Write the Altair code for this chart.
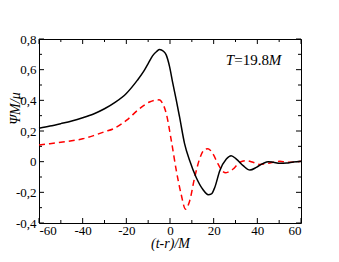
import altair as alt
import pandas as pd

# Black solid curve
black_t = [-60, -55, -50, -45, -40, -35, -30, -25, -20, -15, -12, -10, -8, -6, -4.8, -3, -1.7, -0.2,
           1.3, 2.9, 4.4, 6.7, 9, 12, 15, 17.5, 19, 20.5, 22.8, 25.8, 28, 30.4, 33.5, 36.6, 39.6,
           42.7, 45, 47.3, 50.3, 53.4, 56.4, 60]
black_psi = [0.218, 0.232, 0.248, 0.265, 0.286, 0.311, 0.345, 0.388, 0.445, 0.53, 0.59, 0.64, 0.69,
             0.72, 0.732, 0.72, 0.695, 0.62, 0.51, 0.40, 0.29, 0.116, 0.007, -0.103, -0.18, -0.215,
             -0.21, -0.168, -0.059, 0.017, 0.039, 0.017, -0.026, -0.055, -0.037, -0.011, 0.0,
             -0.004, -0.011, -0.009, -0.002, 0.003]

# Red dashed curve
red_t = [-60, -55, -50, -45, -40, -35, -30, -26, -20, -14, -9.4, -6.5, -5, -3.3, -1.7, 0.6, 2.9,
         5.1, 7.1, 9, 11.3, 13.6, 15.9, 17.4, 19.7, 22, 24.3, 25.5, 26.6, 28.9, 32, 35, 38, 41, 44,
         47.3, 50.3, 53.4, 56.4, 60]
red_psi = [0.109, 0.117, 0.126, 0.136, 0.149, 0.17, 0.195, 0.214, 0.269, 0.345, 0.389, 0.402, 0.403,
           0.378, 0.313, 0.138, -0.059, -0.212, -0.31, -0.256, -0.103, 0.02, 0.08, 0.085, 0.05,
           -0.015, -0.065, -0.072, -0.068, -0.048, -0.004, 0.007, -0.004, -0.018, -0.013, -0.004,
           0.002, -0.003, -0.003, 0.002]

x_major = [-60, -40, -20, 0, 20, 40, 60]
x_minor = [-50, -30, -10, 10, 30, 50]
y_major = [-0.4, -0.2, 0, 0.2, 0.4, 0.6, 0.8]
y_minor = [-0.3, -0.1, 0.1, 0.3, 0.5, 0.7]

annot_x = [25.5]
annot_y = [0.63]

W, H = 262, 184
X0, X1 = -60, 60
Y0, Y1 = -0.4, 0.8
FONT = "Liberation Serif"

xs = alt.Scale(domain=[X0, X1], nice=False, zero=False)
ys = alt.Scale(domain=[Y0, Y1], nice=False, zero=False)

common = dict(domain=False, ticks=False, grid=False,
              labelFont=FONT, labelFontSize=13, labelColor="black", labelFontWeight="normal",
              titleFont=FONT, titleFontSize=14, titleFontStyle="italic",
              titleFontWeight="normal", titleColor="black", labelOverlap=False)

xaxis = alt.Axis(values=x_major, title="(t-r)/M", labelExpr="'' + datum.value",
                 labelPadding=1, titleBaseline="top", titleY=13, **common)
yaxis = alt.Axis(values=y_major, title="ΨM/μ",
                 labelExpr="replace('' + datum.value, '.', ',')",
                 labelPadding=3, titleAngle=270, titleAlign="center",
                 titleBaseline="alphabetic", titleX=-20, titleY=69, **common)

bdf = pd.DataFrame({"x": black_t, "y": black_psi})
rdf = pd.DataFrame({"x": red_t, "y": red_psi})


def X(f="x"):
    return alt.X(f"{f}:Q", scale=xs, axis=xaxis)


def Y(f="y"):
    return alt.Y(f"{f}:Q", scale=ys, axis=yaxis)


red_line = alt.Chart(rdf).mark_line(color="#ff0000", strokeWidth=1.5, strokeDash=[6, 4],
                                    interpolate="monotone").encode(x=X(), y=Y())
black_line = alt.Chart(bdf).mark_line(color="black", strokeWidth=1.5,
                                      interpolate="monotone").encode(x=X(), y=Y())

# tick lengths converted from pixels to data units through the scale spans
px_y = (Y1 - Y0) / H
px_x = (X1 - X0) / W
rows_v = []
for v in x_major:
    rows_v.append({"x": v, "y": Y0, "y2": Y0 + 5 * px_y})
    rows_v.append({"x": v, "y": Y1, "y2": Y1 - 5 * px_y})
for v in x_minor:
    rows_v.append({"x": v, "y": Y0, "y2": Y0 + 3 * px_y})
    rows_v.append({"x": v, "y": Y1, "y2": Y1 - 3 * px_y})
rows_h = []
for v in y_major:
    rows_h.append({"y": v, "x": X0, "x2": X0 + 5 * px_x})
    rows_h.append({"y": v, "x": X1, "x2": X1 - 5 * px_x})
for v in y_minor:
    rows_h.append({"y": v, "x": X0, "x2": X0 + 3 * px_x})
    rows_h.append({"y": v, "x": X1, "x2": X1 - 3 * px_x})

vt = alt.Chart(pd.DataFrame(rows_v)).mark_rule(color="black", strokeWidth=1).encode(
    x=X(), y=Y(), y2="y2:Q")
ht = alt.Chart(pd.DataFrame(rows_h)).mark_rule(color="black", strokeWidth=1).encode(
    x=X(), x2="x2:Q", y=Y())

adf = pd.DataFrame({"x": annot_x, "y": annot_y})
abase = alt.Chart(adf).encode(x=X(), y=Y())
t1 = abase.mark_text(text="T", font=FONT, fontSize=15, fontStyle="italic", align="left",
                     baseline="alphabetic", color="black")
t2 = abase.mark_text(text="=19.8", font=FONT, fontSize=15, align="left", dx=8.5,
                     baseline="alphabetic", color="black")
t3 = abase.mark_text(text="M", font=FONT, fontSize=15, fontStyle="italic", align="left", dx=43,
                     baseline="alphabetic", color="black")

chart = alt.layer(red_line, black_line, vt, ht, t1, t2, t3).properties(
    width=W, height=H,
    background="white",
    autosize=alt.AutoSizeParams(type="none"),
    padding={"left": 31, "top": 31, "right": 10, "bottom": 40},
).configure_view(stroke="black", strokeWidth=1)

chart.save("out.html", embed_options={"renderer": "svg", "actions": False})
